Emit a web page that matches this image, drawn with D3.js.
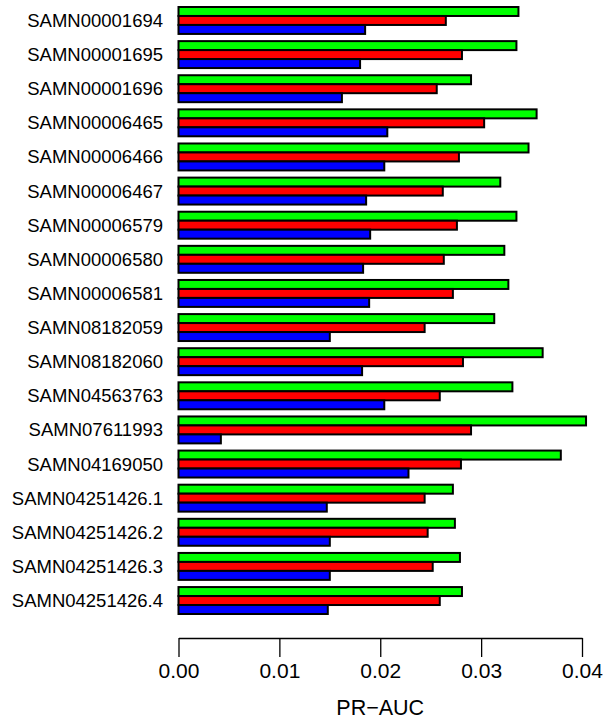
<!DOCTYPE html>
<html>
<head>
<meta charset="utf-8">
<script src="https://cdn.jsdelivr.net/npm/d3@7"></script>
<style>
html,body{margin:0;padding:0;background:#fff;}
svg{display:block;font-family:"Liberation Sans",Arial,Helvetica,sans-serif;}
</style>
</head>
<body>
<script>
const categories = ["SAMN00001694","SAMN00001695","SAMN00001696","SAMN00006465","SAMN00006466","SAMN00006467","SAMN00006579","SAMN00006580","SAMN00006581","SAMN08182059","SAMN08182060","SAMN04563763","SAMN07611993","SAMN04169050","SAMN04251426.1","SAMN04251426.2","SAMN04251426.3","SAMN04251426.4"];
const seriesNames = ["green","red","blue"];
const greenValues = [0.0337,0.0335,0.0290,0.0355,0.0347,0.0319,0.0335,0.0323,0.0327,0.0313,0.0361,0.0331,0.0404,0.0379,0.0272,0.0274,0.0279,0.0281];
const redValues   = [0.0265,0.0281,0.0256,0.0303,0.0278,0.0262,0.0276,0.0263,0.0272,0.0244,0.0282,0.0259,0.0290,0.0280,0.0244,0.0247,0.0252,0.0259];
const blueValues  = [0.0185,0.0180,0.0162,0.0207,0.0204,0.0186,0.0190,0.0183,0.0189,0.0150,0.0182,0.0204,0.0042,0.0228,0.0147,0.0150,0.0150,0.0148];
const seriesColors = ["#00ff00","#ff0000","#0000ff"];
const xTicks = [0,0.01,0.02,0.03,0.04];
const xTitle = "PR\u2212AUC";

const W = 603, H = 723;
const svg = d3.select("body").append("svg").attr("width", W).attr("height", H);

const x = d3.scaleLinear().domain([0, 0.04]).range([178.5, 582]);
const y = d3.scaleBand().domain(categories).range([7, 614]).paddingInner(0.8/3.8).paddingOuter(0);
const ys = d3.scaleBand().domain(seriesNames).range([0, y.bandwidth()]).padding(0);

const values = [greenValues, redValues, blueValues];
const rows = [];
categories.forEach((c, i) => {
  seriesNames.forEach((s, j) => rows.push({cat: c, s: s, v: values[j][i], col: seriesColors[j]}));
});

svg.append("g").selectAll("rect").data(rows).join("rect")
  .attr("x", x(0))
  .attr("y", d => y(d.cat) + ys(d.s))
  .attr("width", d => Math.max(0, x(d.v) - x(0)))
  .attr("height", ys.bandwidth())
  .attr("fill", d => d.col)
  .attr("stroke", "#000")
  .attr("stroke-width", 2);

svg.append("g").selectAll("text").data(categories).join("text")
  .attr("x", 163)
  .attr("y", d => y(d) + y.bandwidth()/2)
  .attr("dy", "0.35em")
  .attr("text-anchor", "end")
  .attr("font-size", 18.5)
  .attr("fill", "#000")
  .text(d => d);

const axis = d3.axisBottom(x).tickValues(xTicks).tickFormat(d3.format(".2f")).tickSize(19).tickSizeOuter(0).tickPadding(6);
const ag = svg.append("g").attr("transform", "translate(0,638)").call(axis);
ag.select(".domain").attr("stroke", "#000").attr("stroke-width", 1.3);
ag.selectAll(".tick line").attr("stroke", "#000").attr("stroke-width", 1.3);
ag.selectAll(".tick text").attr("font-size", 21).attr("font-family", "Liberation Sans, Arial, sans-serif").attr("fill", "#000");

svg.append("text")
  .attr("x", x(0.02))
  .attr("y", 715)
  .attr("text-anchor", "middle")
  .attr("font-size", 21.5)
  .attr("fill", "#000")
  .text(xTitle);
</script>
</body>
</html>
